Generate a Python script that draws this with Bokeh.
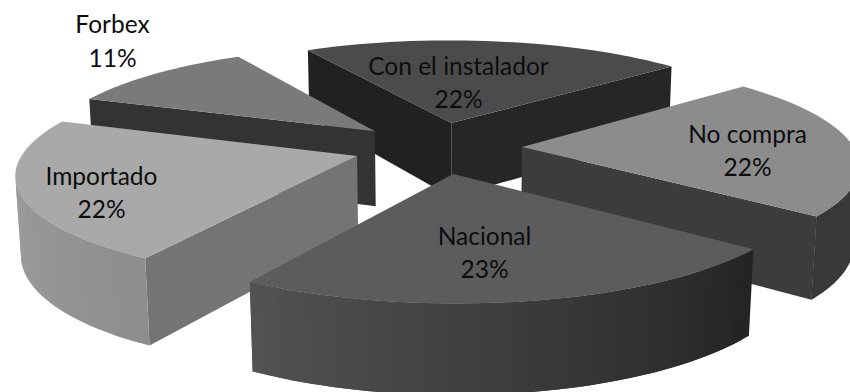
import numpy as np
from bokeh.plotting import figure
from bokeh.embed import file_html
from bokeh.resources import INLINE
from bokeh.core.properties import value

categories = ["Con el instalador", "No compra", "Nacional", "Importado", "Forbex"]
shares = [22, 22, 23, 22, 11]

# Camera and wedge geometry of the exploded 3D pie
CX, CY, FOCAL, DIST = 437.3, 223.6, 2117.0, 6.397
ELEV, THICK, EXPLODE, START, XSTRETCH = 0.3438, 0.2428, 0.2545, -0.5231, 0.9892

# Grey shades: top, start face, end face, wall at the sweep start, wall at the sweep end
SHADES = {
    "Con el instalador": (0x4b, 0x21, 0x26, 0x30, 0x30),
    "No compra": (0x8c, 0x3c, 0x3c, 0x3e, 0x38),
    "Nacional": (0x5c, 0x30, 0x30, 0x24, 0x52),
    "Importado": (0xa9, 0x74, 0x74, 0x8e, 0xa6),
    "Forbex": (0x7a, 0x33, 0x33, 0x33, 0x33),
}
# Back-to-front painting order
PAINT_ORDER = ["Con el instalador", "Forbex", "No compra", "Importado", "Nacional"]
# Label centres on the page (name line, percentage line)
LABEL_AT = {
    "Con el instalador": (458, 65, 98),
    "No compra": (747, 133, 166),
    "Nacional": (484, 235, 268),
    "Importado": (101, 175, 208),
    "Forbex": (112, 23, 57),
}
STRIPS = 36


def project(x, y, z):
    x, y, z = np.asarray(x, float), np.asarray(y, float), np.asarray(z, float)
    up = y * np.sin(ELEV) + z * np.cos(ELEV)
    depth = DIST + y * np.cos(ELEV) - z * np.sin(ELEV)
    return CX + XSTRETCH * FOCAL * x / depth, CY - FOCAL * up / depth


def grey(level):
    v = int(round(level))
    return f"#{v:02x}{v:02x}{v:02x}"


camera = np.array([0.0, -DIST * np.cos(ELEV), DIST * np.sin(ELEV)])
xs, ys, colors = [], [], []


def add_quad(p0, p1, normal, shade):
    """Queue one vertical quad between plan points p0 and p1 if it faces the camera."""
    centre = np.array([(p0[0] + p1[0]) / 2, (p0[1] + p1[1]) / 2, THICK / 2])
    if np.dot(normal, camera - centre) <= 0:
        return
    px = [p0[0], p1[0], p1[0], p0[0]]
    py = [p0[1], p1[1], p1[1], p0[1]]
    pz = [0, 0, THICK, THICK]
    sx, sy = project(px, py, pz)
    xs.append(sx.tolist())
    ys.append(sy.tolist())
    colors.append(grey(shade))


sweep = np.array(shares) / sum(shares) * 2 * np.pi
bounds = np.concatenate([[0], np.cumsum(sweep)]) + START

for name in PAINT_ORDER:
    i = categories.index(name)
    t0, t1 = bounds[i], bounds[i + 1]
    mid = (t0 + t1) / 2
    ox, oy = EXPLODE * np.sin(mid), EXPLODE * np.cos(mid)
    top, start_face, end_face, wall0, wall1 = SHADES[name]

    ts = np.linspace(t0, t1, STRIPS + 1)
    rim_x, rim_y = ox + np.sin(ts), oy + np.cos(ts)

    add_quad((ox, oy), (rim_x[0], rim_y[0]), np.array([-np.cos(t0), np.sin(t0), 0]), start_face)
    add_quad((ox, oy), (rim_x[-1], rim_y[-1]), np.array([np.cos(t1), -np.sin(t1), 0]), end_face)

    # Each wall strip runs on under its neighbour so no seams show between them
    for j in range(STRIPS):
        k = min(j + 2, STRIPS)
        tm = (ts[j] + ts[j + 1]) / 2
        seg_t = ts[j:k + 1]
        normal = np.array([np.sin(tm), np.cos(tm), 0])
        centre = np.array([ox + np.sin(tm), oy + np.cos(tm), THICK / 2])
        if np.dot(normal, camera - centre) <= 0:
            continue
        seg_x, seg_y = ox + np.sin(seg_t), oy + np.cos(seg_t)
        sx, sy = project(np.r_[seg_x, seg_x[::-1]], np.r_[seg_y, seg_y[::-1]],
                         np.r_[np.zeros(len(seg_x)), np.full(len(seg_x), THICK)])
        xs.append(sx.tolist())
        ys.append(sy.tolist())
        colors.append(grey(wall0 + (wall1 - wall0) * j / (STRIPS - 1)))

    tx, ty = project(np.r_[ox, rim_x], np.r_[oy, rim_y], np.full(STRIPS + 2, THICK))
    xs.append(tx.tolist())
    ys.append(ty.tolist())
    colors.append(grey(top))

p = figure(width=850, height=392, x_range=(0, 850), y_range=(392, 0),
           toolbar_location=None, output_backend="svg", min_border=0)
p.axis.visible = False
p.grid.visible = False
p.outline_line_color = None
p.background_fill_color = "white"
p.border_fill_color = "white"

p.patches(xs, ys, fill_color=colors, line_color=None)

label_x, label_y, label_text = [], [], []
for name, share in zip(categories, shares):
    lx, y1, y2 = LABEL_AT[name]
    label_x += [lx, lx]
    label_y += [y1, y2]
    label_text += [name, f"{share}%"]

p.text(label_x, label_y, text=label_text, text_font=value("Lato"),
       text_font_size="24.5px", text_color="#0d0d0d",
       text_align="center", text_baseline="middle")

open("out.html", "w").write(file_html(p, INLINE))
